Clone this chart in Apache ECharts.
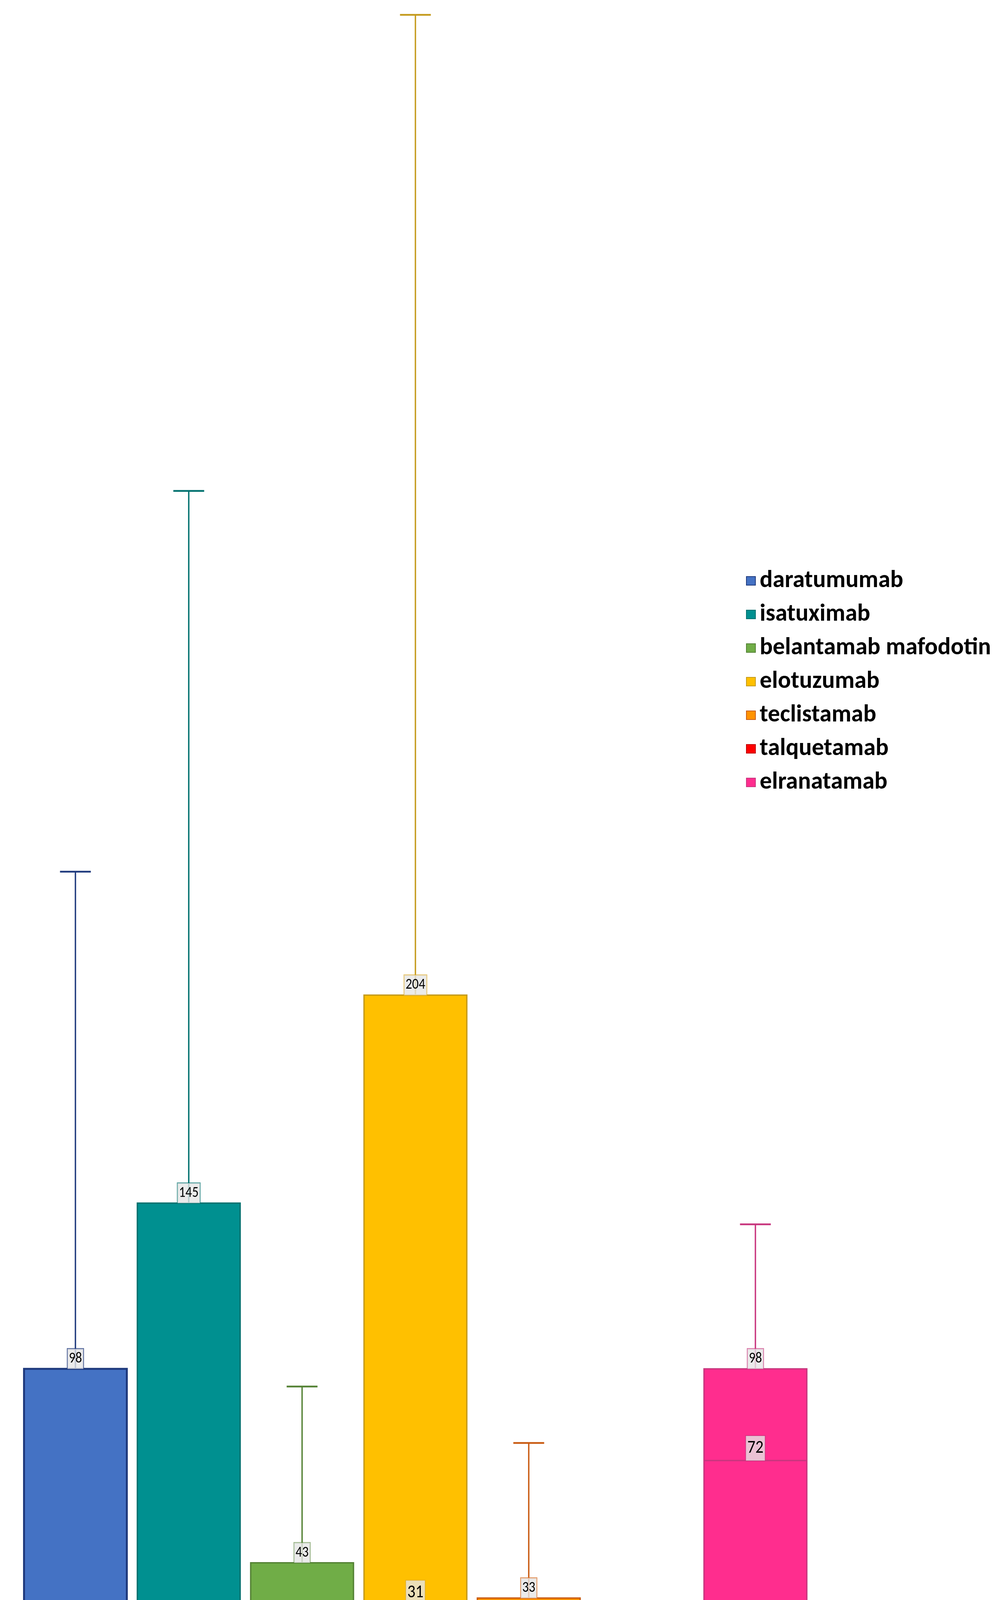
<!DOCTYPE html>
<html><head><meta charset="utf-8">
<script src="https://cdn.jsdelivr.net/npm/echarts@6/dist/echarts.min.js"></script>
<style>html,body{margin:0;padding:0;background:#fff}#c{width:2564px;height:4522px}</style>
</head><body><div id="c"></div>
<script>
// ---- data (days) ----
const categories = ['daratumumab', 'isatuximab', 'belantamab mafodotin', 'elotuzumab', 'teclistamab', 'talquetamab', 'elranatamab'];
const minValues = [1, 1, 1, 1, 1, 2, 2];
const q1Values = [2, 3, 1, 13, 3, 3, 18];
const medianValues = [19, 20, 18, 31, 8, 11, 72];
const q3Values = [98, 145, 43, 204, 33, 16, 98];
const maxValues = [239, 347, 93, 482, 77, 30, 139];
const axisTitle = 'Time to onset (days)';

// ---- styles ----
const fillColors = ['#4472C4', '#009090', '#70AD47', '#FFC000', '#FF9300', '#FF0000', '#FF2D8E'];
const lineColors = ['#1F3A7D', '#00706E', '#548235', '#C49A1C', '#C95B12', '#C00000', '#C8367E'];
const labelBorders = ['rgba(31,58,125,0.8)', 'rgba(0,112,110,0.7)', 'rgba(84,130,53,0.6)', 'rgba(220,170,40,0.7)', 'rgba(220,120,50,0.8)', 'rgba(192,0,0,0.7)', 'rgba(200,54,126,0.7)'];
const FONT = 'Carlito, Lato, sans-serif';

const chart = echarts.init(document.getElementById('c'), null, {renderer: 'canvas'});

function makeLabel(text, cx, top, big, border) {
  return {
    type: 'text',
    x: cx, y: top,
    scaleX: 0.87,
    z2: 20,
    style: {
      text: String(text),
      x: 0, y: 0,
      align: 'center', verticalAlign: 'top',
      fill: '#000',
      font: (big ? 47 : 38) + 'px ' + FONT,
      lineHeight: big ? 57 : 45,
      padding: [3, 4],
      backgroundColor: 'rgba(230,230,230,0.8)',
      borderColor: border,
      borderWidth: 2
    }
  };
}

function renderBox(params, api) {
  const s = params.seriesIndex;
  const idx = api.value(0);
  const cx = api.coord([idx, 0])[0];
  const band = api.size([1, 0])[0];
  const bw = band * 0.907;
  const cap = bw * 0.3;
  const yv = v => api.coord([idx, v])[1];
  const yMin = yv(api.value(1)), yQ1 = yv(api.value(2)), yMed = yv(api.value(3));
  const yQ3 = yv(api.value(4)), yMax = yv(api.value(5));
  const fill = fillColors[s], line = lineColors[s];
  const bwLine = s === 0 ? 5 : 3.5;
  const children = [
    {type: 'line', shape: {x1: cx, y1: yQ3, x2: cx, y2: yMax}, style: {stroke: line, lineWidth: 3.5}},
    {type: 'line', shape: {x1: cx - cap / 2, y1: yMax, x2: cx + cap / 2, y2: yMax}, style: {stroke: line, lineWidth: 4.5}},
    {type: 'line', shape: {x1: cx, y1: yQ1, x2: cx, y2: yMin}, style: {stroke: line, lineWidth: 3.5}},
    {type: 'line', shape: {x1: cx - cap / 2, y1: yMin, x2: cx + cap / 2, y2: yMin}, style: {stroke: line, lineWidth: 4.5}},
    {type: 'rect', shape: {x: cx - bw / 2, y: yQ3, width: bw, height: yQ1 - yQ3}, style: {fill: fill, stroke: line, lineWidth: bwLine}},
    {type: 'line', shape: {x1: cx - bw / 2, y1: yMed, x2: cx + bw / 2, y2: yMed}, style: {stroke: line, lineWidth: 3.5}, z2: 5}
  ];
  // labels sit on their value; pushed down when they would overlap the label above
  const hQ = 51, hM = 63;
  const q3Top = yQ3 - hQ, q3Bottom = yQ3;
  let medTop = yMed - hM;
  if (medTop < q3Bottom + 20) medTop = q3Bottom + 20;
  const medBottom = medTop + hM;
  let q1Top = yQ1 - hQ;
  if (q1Top < medBottom + 13) q1Top = medBottom + 13;
  const border = labelBorders[s];
  children.push(makeLabel(api.value(4), cx, q3Top, false, border));
  children.push(makeLabel(api.value(3), cx, medTop, true, border));
  children.push(makeLabel(api.value(2), cx, q1Top, false, border));
  return {type: 'group', children: children};
}

const series = categories.map((name, i) => ({
  name: name,
  type: 'custom',
  renderItem: renderBox,
  clip: false,
  itemStyle: {color: fillColors[i], borderColor: lineColors[i], borderWidth: 3},
  encode: {x: 0, y: [1, 2, 3, 4, 5]},
  data: [[i, minValues[i], q1Values[i], medianValues[i], q3Values[i], maxValues[i]]]
}));

chart.setOption({
  animation: false,
  backgroundColor: '#fff',
  grid: {left: 48, right: 486, top: 38, bottom: 133},
  xAxis: {
    type: 'category',
    data: categories,
    axisLine: {show: false}, axisTick: {show: false}, axisLabel: {show: false}, splitLine: {show: false},
    name: axisTitle,
    nameLocation: 'middle',
    nameGap: 45,
    nameTextStyle: {fontFamily: FONT, fontWeight: 'bold', fontSize: 63, color: '#000'}
  },
  yAxis: {
    type: 'value', min: 0, max: v => v.max, show: false
  },
  legend: {
    orient: 'vertical',
    left: 1904, top: 1451,
    icon: 'rect',
    itemWidth: 23, itemHeight: 22,
    itemGap: 24,
    selectedMode: false,
    data: categories,
    textStyle: {fontFamily: FONT, fontWeight: 'bold', fontSize: 62, lineHeight: 62, color: '#000', padding: [0, 0, 0, 6]}
  },
  series: series
});
</script>
</body></html>
